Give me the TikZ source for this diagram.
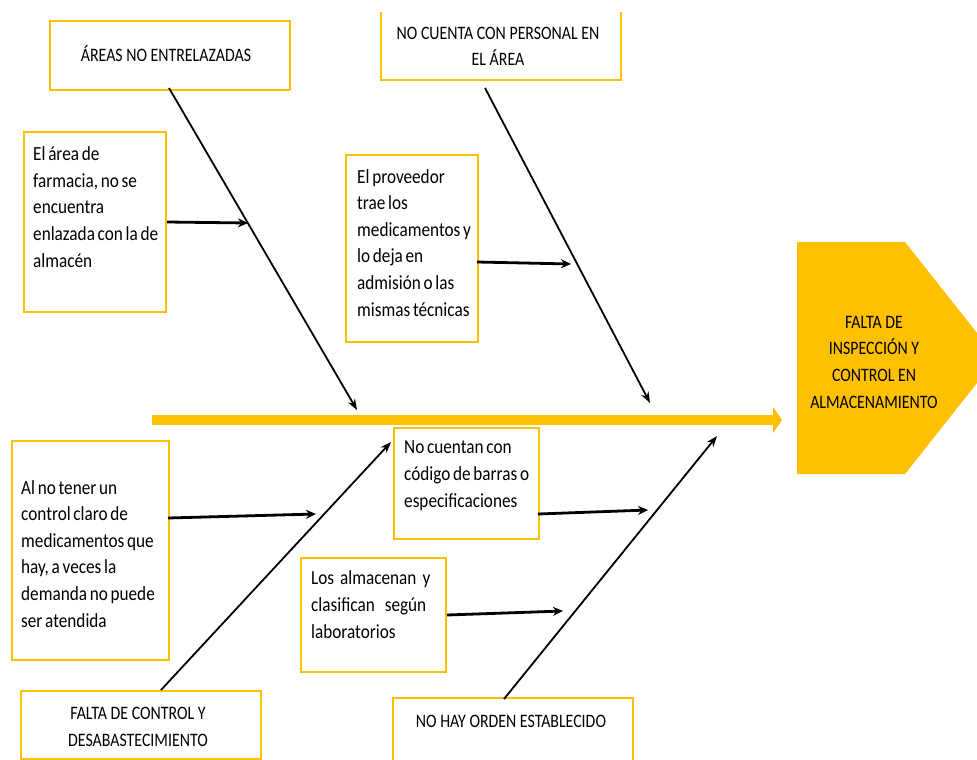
\documentclass[tikz,border=0pt]{standalone}
\usepackage{fontspec}
\setmainfont{Carlito}[FakeStretch=0.86,WordSpace=0.7]
\newfontfamily\capsfont{Carlito}[FakeStretch=0.835]
\usetikzlibrary{arrows.meta}
\definecolor{gold}{HTML}{FFC000}
\begin{document}
\begin{tikzpicture}[x=1pt,y=-1pt,
  boxline/.style={draw=gold, line width=2pt},
  box/.style={boxline, fill=white, rectangle, inner sep=0pt, anchor=north west},
  openbox/.style={rectangle, inner sep=0pt, anchor=north west},
  txt/.style={inner sep=0pt, font=\fontsize{20}{26.6}\selectfont, align=left, anchor=base west},
  ctxt/.style={inner sep=0pt, font=\capsfont\fontsize{19}{26.6}\selectfont, align=center, anchor=base},
  bone/.style={line width=1.8pt, -{Stealth[length=11pt,width=8pt]}},
  subarrow/.style={line width=2.8pt, -{Stealth[length=10pt,width=9pt]}},
]
\fill[white] (0,0) rectangle (977,760);
\useasboundingbox (0,0) rectangle (977,760);

% boxes
\node[box, minimum width=240pt, minimum height=69pt] (areas) at (49,20) {};
\node[openbox, minimum width=240pt, minimum height=68pt] (cuenta) at (381,12) {};
\draw[boxline] (cuenta.north west) -- (cuenta.south west) -- (cuenta.south east) -- (cuenta.north east);
\node[box, minimum width=142pt, minimum height=180pt] (farm) at (23,131) {};
\node[box, minimum width=132pt, minimum height=187pt] (prov) at (345,154) {};
\node[box, minimum width=157pt, minimum height=219pt] (alno) at (11,440) {};
\node[box, minimum width=145pt, minimum height=111pt] (codigo) at (393,427) {};
\node[box, minimum width=145pt, minimum height=114pt] (almac) at (300,557) {};
\node[box, minimum width=240pt, minimum height=68pt] (falta) at (20,690) {};
\node[openbox, minimum width=240pt, minimum height=62pt] (orden) at (393,698) {};
\draw[boxline] (orden.south west) -- (orden.north west) -- (orden.north east) -- (orden.south east);

% head
\fill[gold] (797,242) -- (905,242) -- (977,333) -- (977,383) -- (905,474) -- (797,474) -- cycle;
\node[ctxt] (thead) at (874,408) {FALTA DE\\INSPECCIÓN Y\\CONTROL EN\\ALMACENAMIENTO};

% spine
\coordinate (sp0) at (152,420);
\coordinate (sp1) at (782,420);
\draw[gold, line width=10pt, -{Triangle[length=9pt,width=26pt]}] (sp0) -- (sp1);

% bones
\coordinate (b1s) at (169,88);   \coordinate (b1e) at (357,410);
\coordinate (b2s) at (485,88);   \coordinate (b2e) at (650,403);
\coordinate (b3s) at (161,690);  \coordinate (b3e) at (391,442);
\coordinate (b4s) at (504,699);  \coordinate (b4e) at (717,436);
\draw[bone] (b1s) -- (b1e);
\draw[bone] (b2s) -- (b2e);
\draw[bone] (b3s) -- (b3e);
\draw[bone] (b4s) -- (b4e);

% sub arrows
\coordinate (s1e) at (248,223);
\coordinate (s2s) at (477,262);  \coordinate (s2e) at (571,264);
\coordinate (s3s) at (168,518);  \coordinate (s3e) at (316,514);
\coordinate (s4s) at (538,514);  \coordinate (s4e) at (648,510);
\coordinate (s5e) at (563,611);
\draw[subarrow] (farm.east) -- (s1e);
\draw[subarrow] (s2s) -- (s2e);
\draw[subarrow] (s3s) -- (s3e);
\draw[subarrow] (s4s) -- (s4e);
\draw[subarrow] (almac.east) -- (s5e);

% texts (anchor = baseline of the last line)
\node[ctxt] (tareas) at (166,62) {ÁREAS NO ENTRELAZADAS};
\node[ctxt] (tcuenta) at (498,66) {NO CUENTA CON PERSONAL EN\\EL ÁREA};
\node[txt] (tfarm) at (33,267) {El área de\\farmacia, no se\\encuentra\\enlazada con la de\\almacén};
\node[txt] (tprov) at (357,316) {El proveedor\\trae los\\medicamentos y\\lo deja en\\admisión o las\\mismas técnicas};
\node[txt] (talno) at (21,627) {Al no tener un\\control claro de\\medicamentos que\\hay, a veces la\\demanda no puede\\ser atendida};
\node[txt] (tcod) at (404,507) {No cuentan con\\código de barras o\\especificaciones};
\node[txt] (talm) at (311,638) {Los\hspace{6pt}almacenan\hspace{6pt}y\\clasifican\hspace{10pt}según\\laboratorios};
\node[ctxt] (tfalta) at (138,746) {FALTA DE CONTROL Y\\DESABASTECIMIENTO};
\node[ctxt] (torden) at (511,727) {NO HAY ORDEN ESTABLECIDO};
\end{tikzpicture}
\end{document}
